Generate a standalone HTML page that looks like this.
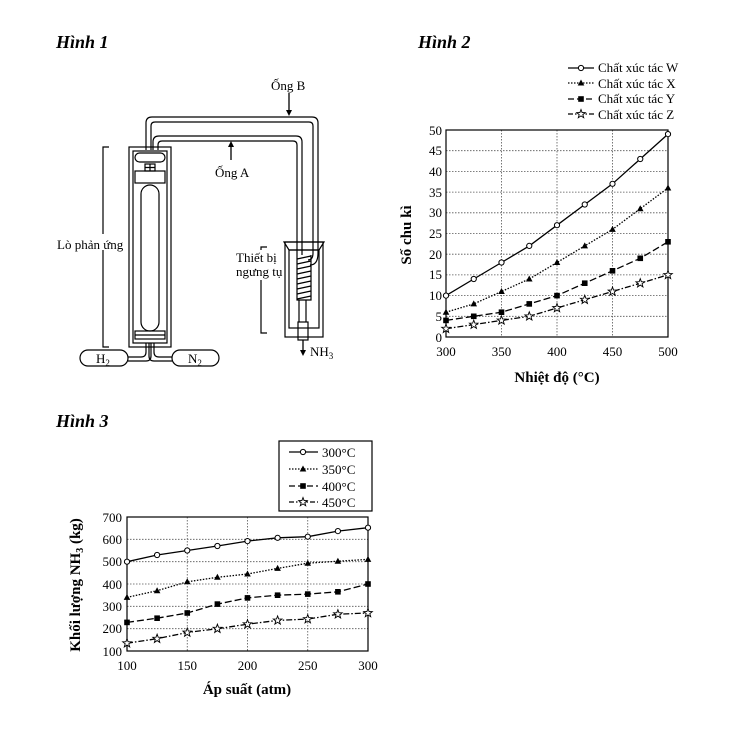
<!DOCTYPE html>
<html><head><meta charset="utf-8"><style>
html,body{margin:0;padding:0;background:#fff;}
svg{display:block;font-family:"Liberation Serif",serif;}
</style></head><body>
<svg width="744" height="738" viewBox="0 0 744 738" xmlns="http://www.w3.org/2000/svg">
<defs>
<circle id="oc" r="2.6" fill="#fff" stroke="#000" stroke-width="1"/>
<path id="tr" d="M0,-3.5 L3.3,2.5 L-3.3,2.5 Z" fill="#000"/>
<rect id="sq" x="-2.8" y="-2.8" width="5.6" height="5.6" fill="#000"/>
<path id="st" d="M0,-4.5 L1.1,-1.5 L4.3,-1.4 L1.8,0.6 L2.7,3.7 L0,1.9 L-2.7,3.7 L-1.8,0.6 L-4.3,-1.4 L-1.1,-1.5 Z" fill="#fff" stroke="#000" stroke-width="0.9"/>
</defs>
<g font-weight="bold" font-style="italic" font-size="18">
<text x="56" y="48">Hình 1</text>
<text x="418" y="48">Hình 2</text>
<text x="56" y="427">Hình 3</text>
</g>

<!-- Figure 1 -->
<g fill="none" stroke="#000" stroke-width="1.2">
<path d="M146,150 V123 Q146,117 152,117 H312 Q318,117 318,123 V253"/>
<path d="M151,150 V126 Q151,122 155,122 H309 Q313,122 313,126 V253"/>
<path d="M153,150 V142 Q153,136 159,136 H296 Q302,136 302,142 V255"/>
<path d="M158,150 V145 Q158,141 162,141 H293 Q297,141 297,145 V255"/>
<rect x="129" y="147" width="42" height="200"/>
<rect x="133" y="151" width="34" height="192"/>
<rect x="135" y="153" width="30" height="9" rx="4.5"/>
<rect x="135" y="171" width="30" height="12"/>
<rect x="145" y="164" width="10" height="7"/>
<path d="M150,164 V171 M145,167.5 H155"/>
<rect x="141" y="185" width="18" height="146" rx="9"/>
<rect x="135" y="331" width="30" height="8"/>
<path d="M135,335 H165"/>
<path d="M146,343 V352 Q146,357 141,357 H128"/>
<path d="M151,343 V356 Q151,361 146,361 H128"/>
<path d="M149,343 V356 Q149,361 154,361 H172"/>
<path d="M154,343 V352 Q154,357 159,357 H172"/>
<rect x="80" y="350" width="48" height="16" rx="8" fill="#fff"/>
<rect x="172" y="350" width="47" height="16" rx="8" fill="#fff"/>
<path d="M109,147 H103 V347 H109"/>
<path d="M267,247 H261 V333 H267"/>
<path d="M284,242 H324 L319,250 H289 Z"/>
<rect x="285" y="242" width="38" height="95"/>
<rect x="289" y="250" width="30" height="78"/>
<path d="M297,255 V300 H311 V255 M299,300 V322 M306,300 V322"/>
<rect x="298" y="322" width="10" height="18"/>
<path d="M313,253 Q313,260 308,260 M318,253 Q318,265 310,265"/>
</g>
<g stroke="#000" stroke-width="1.3">
<path d="M297,259 L311,256 M297,264 L311,261 M297,269 L311,266 M297,274 L311,271 M297,279 L311,276 M297,284 L311,281 M297,289 L311,286 M297,294 L311,291 M297,299 L311,296"/>
<path d="M303,340 V352"/>
<path d="M289,93 V113 M231,160 V144"/>
</g>
<path d="M303,356 L300,350 L306,350 Z"/>
<path d="M289,116 L286,110 L292,110 Z"/>
<path d="M231,141 L228,147 L234,147 Z"/>
<rect x="56" y="234" width="72" height="16" fill="#fff"/>
<rect x="235" y="250" width="49" height="30" fill="#fff"/>
<g font-size="13">
<text x="271" y="90">Ống B</text>
<text x="215" y="177">Ống A</text>
<text x="57" y="249">Lò phản ứng</text>
<text x="236" y="262">Thiết bị</text>
<text x="236" y="276">ngưng tụ</text>
<text x="310" y="356">NH<tspan font-size="9" dy="3">3</tspan></text>
<text x="96" y="363">H<tspan font-size="9" dy="3">2</tspan></text>
<text x="188" y="363">N<tspan font-size="9" dy="3">2</tspan></text>
</g>

<!-- Figure 2 -->
<g stroke="#555" stroke-width="0.8" stroke-dasharray="1.5,1.5" fill="none">
<path d="M501.5,130 V337 M557,130 V337 M612.5,130 V337"/>
<path d="M446,150.7 H668 M446,171.4 H668 M446,192.1 H668 M446,212.8 H668 M446,233.5 H668 M446,254.2 H668 M446,274.9 H668 M446,295.6 H668 M446,316.3 H668"/>
</g>
<rect x="446" y="130" width="222" height="207" fill="none" stroke="#000" stroke-width="1.2"/>
<g fill="none" stroke="#000" stroke-width="1.3">
<polyline points="446,295.6 473.75,279 501.5,262.5 529.25,245.9 557,225.2 584.75,204.5 612.5,183.8 640.25,159 668,134.1"/>
<polyline stroke-dasharray="1.5,1.5" points="446,312.2 473.75,303.9 501.5,291.5 529.25,279 557,262.5 584.75,245.9 612.5,229.4 640.25,208.7 668,188"/>
<polyline stroke-dasharray="7,3" points="446,320.4 473.75,316.3 501.5,312.2 529.25,303.9 557,295.6 584.75,283.2 612.5,270.8 640.25,258.3 668,241.8"/>
<polyline stroke-dasharray="6,2,1.5,2" points="446,328.7 473.75,324.6 501.5,320.4 529.25,316.3 557,308 584.75,299.7 612.5,291.5 640.25,283.2 668,274.9"/>
<path d="M568,68 H594"/>
<path d="M568,83 H594" stroke-dasharray="1.5,1.5"/>
<path d="M568,99 H594" stroke-dasharray="6,3"/>
<path d="M568,114 H594" stroke-dasharray="5,2,1.5,2"/>
</g>
<g>
<use href="#oc" x="446" y="295.6"/><use href="#oc" x="473.75" y="279"/><use href="#oc" x="501.5" y="262.5"/><use href="#oc" x="529.25" y="245.9"/><use href="#oc" x="557" y="225.2"/><use href="#oc" x="584.75" y="204.5"/><use href="#oc" x="612.5" y="183.8"/><use href="#oc" x="640.25" y="159"/><use href="#oc" x="668" y="134.1"/>
<use href="#tr" x="446" y="312.2"/><use href="#tr" x="473.75" y="303.9"/><use href="#tr" x="501.5" y="291.5"/><use href="#tr" x="529.25" y="279"/><use href="#tr" x="557" y="262.5"/><use href="#tr" x="584.75" y="245.9"/><use href="#tr" x="612.5" y="229.4"/><use href="#tr" x="640.25" y="208.7"/><use href="#tr" x="668" y="188"/>
<use href="#sq" x="446" y="320.4"/><use href="#sq" x="473.75" y="316.3"/><use href="#sq" x="501.5" y="312.2"/><use href="#sq" x="529.25" y="303.9"/><use href="#sq" x="557" y="295.6"/><use href="#sq" x="584.75" y="283.2"/><use href="#sq" x="612.5" y="270.8"/><use href="#sq" x="640.25" y="258.3"/><use href="#sq" x="668" y="241.8"/>
<use href="#st" x="446" y="328.7"/><use href="#st" x="473.75" y="324.6"/><use href="#st" x="501.5" y="320.4"/><use href="#st" x="529.25" y="316.3"/><use href="#st" x="557" y="308"/><use href="#st" x="584.75" y="299.7"/><use href="#st" x="612.5" y="291.5"/><use href="#st" x="640.25" y="283.2"/><use href="#st" x="668" y="274.9"/>
<use href="#oc" x="581" y="68"/><use href="#tr" x="581" y="83"/><use href="#sq" x="581" y="99"/><use href="#st" x="581" y="114"/>
</g>
<g font-size="13">
<text x="598" y="72">Chất xúc tác W</text>
<text x="598" y="88">Chất xúc tác X</text>
<text x="598" y="103">Chất xúc tác Y</text>
<text x="598" y="119">Chất xúc tác Z</text>
</g>
<g font-size="13" text-anchor="end">
<text x="442" y="135">50</text><text x="442" y="155">45</text><text x="442" y="176">40</text><text x="442" y="197">35</text><text x="442" y="217">30</text><text x="442" y="238">25</text><text x="442" y="259">20</text><text x="442" y="279">15</text><text x="442" y="300">10</text><text x="442" y="321">5</text><text x="442" y="342">0</text>
</g>
<g font-size="13" text-anchor="middle">
<text x="446" y="356">300</text><text x="501.5" y="356">350</text><text x="557" y="356">400</text><text x="612.5" y="356">450</text><text x="668" y="356">500</text>
</g>
<text x="557" y="382" font-size="15" font-weight="bold" text-anchor="middle">Nhiệt độ (°C)</text>
<text transform="translate(411,235) rotate(-90)" font-size="15" font-weight="bold" text-anchor="middle">Số chu kì</text>

<!-- Figure 3 -->
<g stroke="#555" stroke-width="0.8" stroke-dasharray="1.5,1.5" fill="none">
<path d="M187.25,517 V651 M247.5,517 V651 M307.75,517 V651"/>
<path d="M127,539.3 H368 M127,561.7 H368 M127,584 H368 M127,606.3 H368 M127,628.7 H368"/>
</g>
<rect x="127" y="517" width="241" height="134" fill="none" stroke="#000" stroke-width="1.2"/>
<g fill="none" stroke="#000" stroke-width="1.3">
<polyline points="127,561.7 157.1,555 187.25,550.5 217.4,546 247.5,541.1 277.6,537.8 307.75,536.7 337.9,531.1 368,527.7"/>
<polyline stroke-dasharray="1.5,1.5" points="127,597.4 157.1,590.7 187.25,581.8 217.4,577.3 247.5,574 277.6,568.4 307.75,563.2 337.9,561.2 368,559.4"/>
<polyline stroke-dasharray="7,3" points="127,622.4 157.1,618.2 187.25,613 217.4,604.1 247.5,597.9 277.6,595.2 307.75,594.1 337.9,591.8 368,584"/>
<polyline stroke-dasharray="6,2,1.5,2" points="127,643.2 157.1,638.7 187.25,632.5 217.4,628.7 247.5,624.2 277.6,620.4 307.75,619.1 337.9,614.2 368,613"/>
<rect x="279" y="441" width="93" height="70" stroke-width="1.2"/>
<path d="M289,452 H318"/>
<path d="M289,469 H318" stroke-dasharray="1.5,1.5"/>
<path d="M289,486 H318" stroke-dasharray="6,3"/>
<path d="M289,502 H318" stroke-dasharray="5,2,1.5,2"/>
</g>
<g>
<use href="#oc" x="127" y="561.7"/><use href="#oc" x="157.1" y="555"/><use href="#oc" x="187.25" y="550.5"/><use href="#oc" x="217.4" y="546"/><use href="#oc" x="247.5" y="541.1"/><use href="#oc" x="277.6" y="537.8"/><use href="#oc" x="307.75" y="536.7"/><use href="#oc" x="337.9" y="531.1"/><use href="#oc" x="368" y="527.7"/>
<use href="#tr" x="127" y="597.4"/><use href="#tr" x="157.1" y="590.7"/><use href="#tr" x="187.25" y="581.8"/><use href="#tr" x="217.4" y="577.3"/><use href="#tr" x="247.5" y="574"/><use href="#tr" x="277.6" y="568.4"/><use href="#tr" x="307.75" y="563.2"/><use href="#tr" x="337.9" y="561.2"/><use href="#tr" x="368" y="559.4"/>
<use href="#sq" x="127" y="622.4"/><use href="#sq" x="157.1" y="618.2"/><use href="#sq" x="187.25" y="613"/><use href="#sq" x="217.4" y="604.1"/><use href="#sq" x="247.5" y="597.9"/><use href="#sq" x="277.6" y="595.2"/><use href="#sq" x="307.75" y="594.1"/><use href="#sq" x="337.9" y="591.8"/><use href="#sq" x="368" y="584"/>
<use href="#st" x="127" y="643.2"/><use href="#st" x="157.1" y="638.7"/><use href="#st" x="187.25" y="632.5"/><use href="#st" x="217.4" y="628.7"/><use href="#st" x="247.5" y="624.2"/><use href="#st" x="277.6" y="620.4"/><use href="#st" x="307.75" y="619.1"/><use href="#st" x="337.9" y="614.2"/><use href="#st" x="368" y="613"/>
<use href="#oc" x="303" y="452"/><use href="#tr" x="303" y="469"/><use href="#sq" x="303" y="486"/><use href="#st" x="303" y="502"/>
</g>
<g font-size="13">
<text x="322" y="457">300°C</text><text x="322" y="474">350°C</text><text x="322" y="491">400°C</text><text x="322" y="507">450°C</text>
</g>
<g font-size="13" text-anchor="end">
<text x="122" y="522">700</text><text x="122" y="544">600</text><text x="122" y="566">500</text><text x="122" y="589">400</text><text x="122" y="611">300</text><text x="122" y="633">200</text><text x="122" y="656">100</text>
</g>
<g font-size="13" text-anchor="middle">
<text x="127" y="670">100</text><text x="187.25" y="670">150</text><text x="247.5" y="670">200</text><text x="307.75" y="670">250</text><text x="368" y="670">300</text>
</g>
<text x="247" y="694" font-size="15" font-weight="bold" text-anchor="middle">Áp suất (atm)</text>
<text transform="translate(80,585) rotate(-90)" font-size="15" font-weight="bold" text-anchor="middle">Khối lượng NH<tspan font-size="10" dy="3">3</tspan><tspan dy="-3"> (kg)</tspan></text>
</svg>
</body></html>
